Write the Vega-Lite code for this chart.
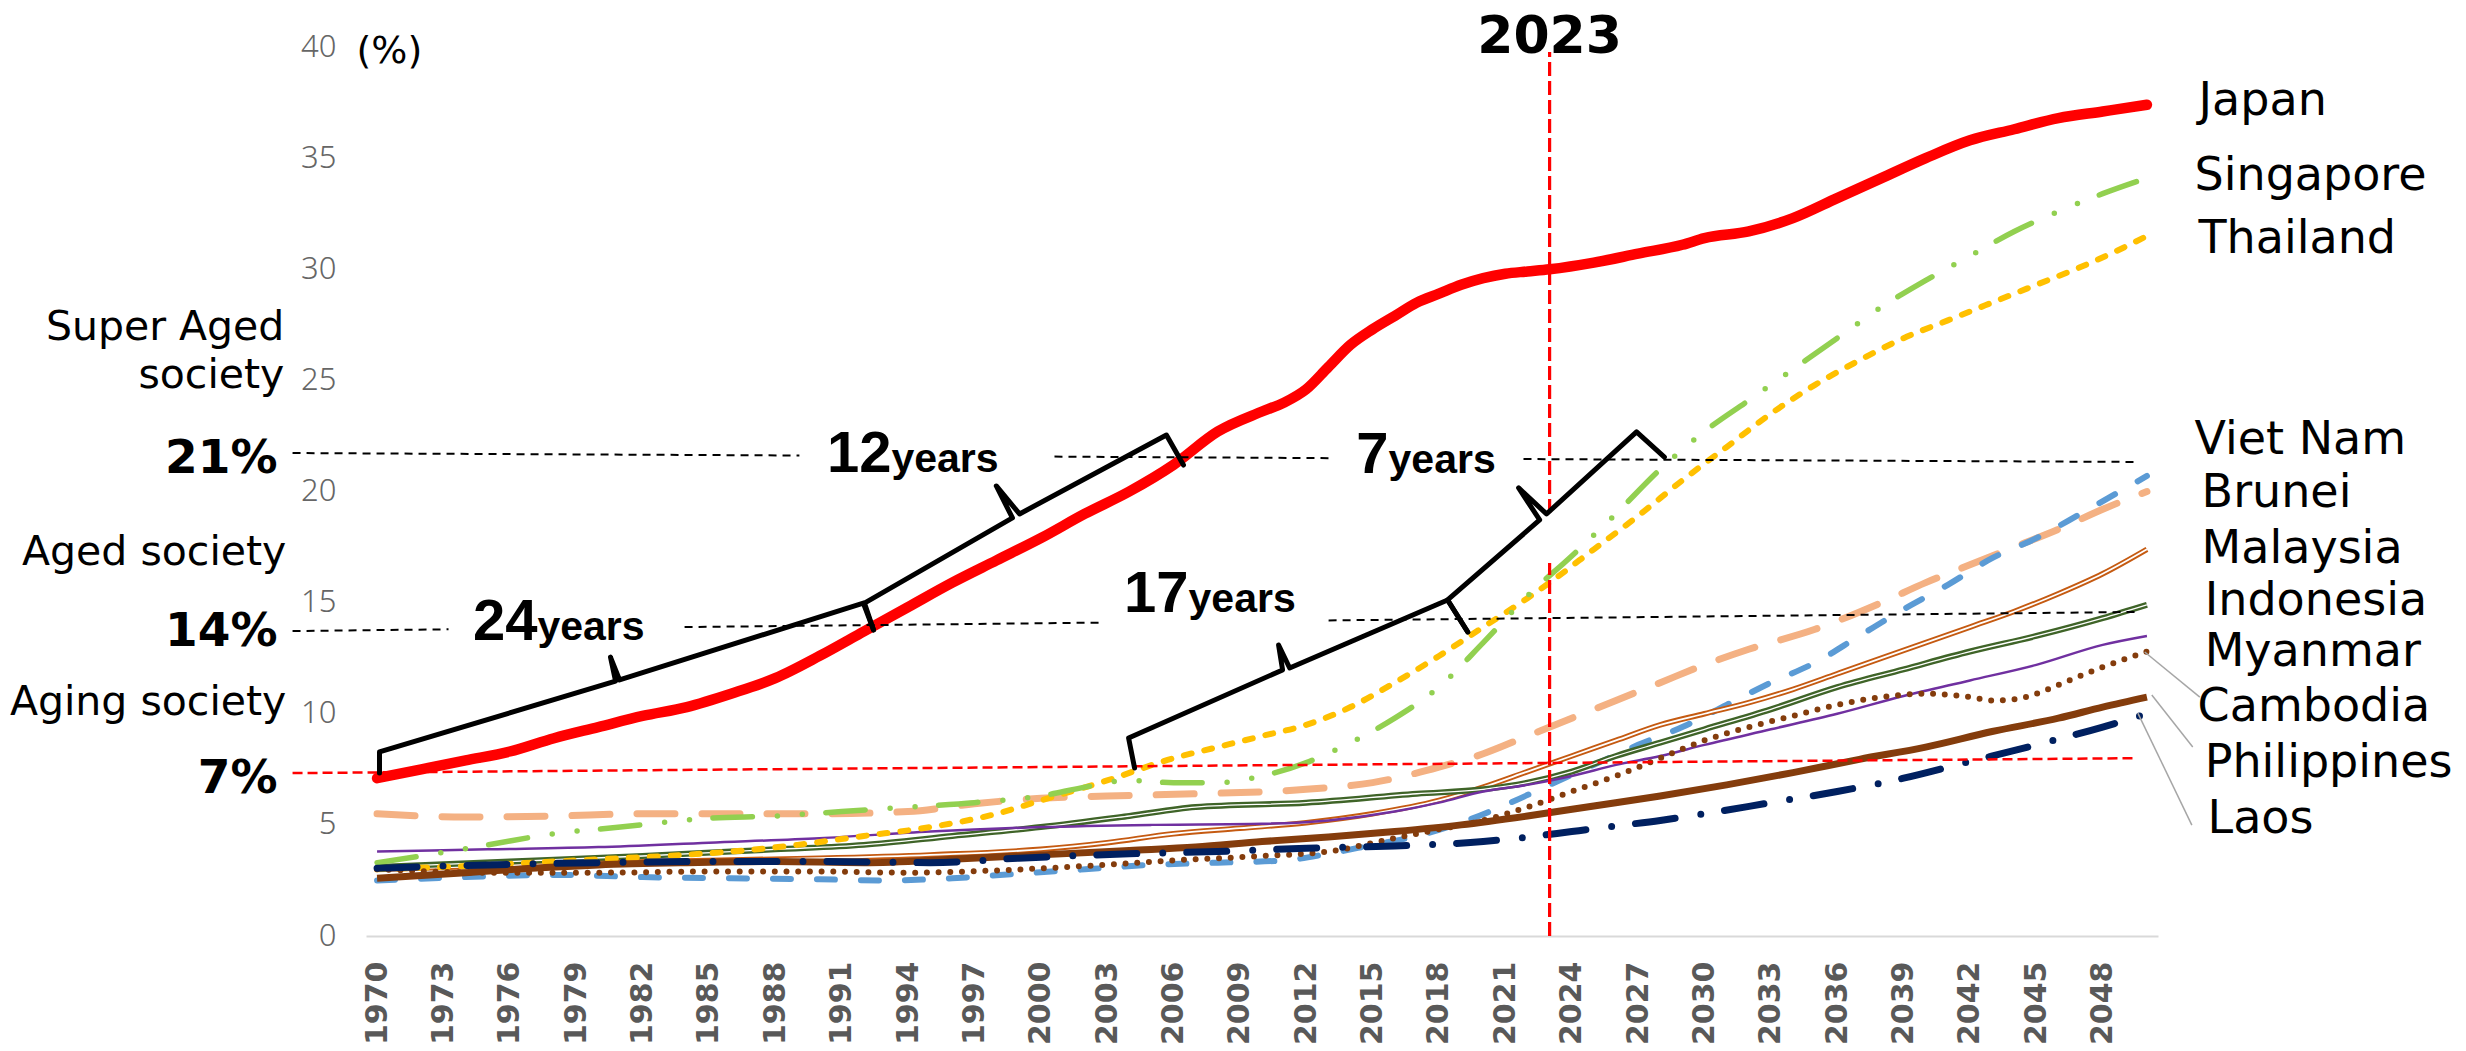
{
"$schema": "https://vega.github.io/schema/vega-lite/v6.json",
"width": 1792, "height": 889,
"autosize": {"type": "none"},
"padding": {"left": 366, "top": 47, "right": 308, "bottom": 115},
"background": "white",
"config": {"view": {"stroke": null}},
"datasets": {
"series": [
{"c":"Japan","year":1970,"pct":7.1},{"c":"Japan","year":1972,"pct":7.5},{"c":"Japan","year":1974,"pct":7.9},{"c":"Japan","year":1976,"pct":8.3},{"c":"Japan","year":1978,"pct":8.9},{"c":"Japan","year":1980,"pct":9.4},{"c":"Japan","year":1982,"pct":9.9},{"c":"Japan","year":1984,"pct":10.3},{"c":"Japan","year":1986,"pct":10.9},{"c":"Japan","year":1988,"pct":11.6},{"c":"Japan","year":1990,"pct":12.6},{"c":"Japan","year":1992,"pct":13.7},{"c":"Japan","year":1994,"pct":14.8},{"c":"Japan","year":1996,"pct":15.9},{"c":"Japan","year":1998,"pct":16.9},{"c":"Japan","year":2000,"pct":17.9},{"c":"Japan","year":2002,"pct":19.0},{"c":"Japan","year":2004,"pct":20.0},{"c":"Japan","year":2006,"pct":21.2},{"c":"Japan","year":2008,"pct":22.7},{"c":"Japan","year":2010,"pct":23.6},{"c":"Japan","year":2011,"pct":24.0},{"c":"Japan","year":2012,"pct":24.6},{"c":"Japan","year":2013,"pct":25.6},{"c":"Japan","year":2014,"pct":26.6},{"c":"Japan","year":2015,"pct":27.3},{"c":"Japan","year":2016,"pct":27.9},{"c":"Japan","year":2017,"pct":28.5},{"c":"Japan","year":2018,"pct":28.9},{"c":"Japan","year":2019,"pct":29.3},{"c":"Japan","year":2020,"pct":29.6},{"c":"Japan","year":2021,"pct":29.8},{"c":"Japan","year":2022,"pct":29.9},{"c":"Japan","year":2023,"pct":30.0},{"c":"Japan","year":2025,"pct":30.3},{"c":"Japan","year":2027,"pct":30.7},{"c":"Japan","year":2029,"pct":31.1},{"c":"Japan","year":2030,"pct":31.4},{"c":"Japan","year":2032,"pct":31.7},{"c":"Japan","year":2034,"pct":32.3},{"c":"Japan","year":2036,"pct":33.2},{"c":"Japan","year":2038,"pct":34.1},{"c":"Japan","year":2040,"pct":35.0},{"c":"Japan","year":2042,"pct":35.8},{"c":"Japan","year":2044,"pct":36.3},{"c":"Japan","year":2046,"pct":36.8},{"c":"Japan","year":2048,"pct":37.1},{"c":"Japan","year":2050,"pct":37.4},
{"c":"Singapore","year":1970,"pct":3.3},{"c":"Singapore","year":1972,"pct":3.6},{"c":"Singapore","year":1975,"pct":4.1},{"c":"Singapore","year":1978,"pct":4.6},{"c":"Singapore","year":1981,"pct":4.9},{"c":"Singapore","year":1985,"pct":5.3},{"c":"Singapore","year":1988,"pct":5.4},{"c":"Singapore","year":1991,"pct":5.6},{"c":"Singapore","year":1994,"pct":5.8},{"c":"Singapore","year":1997,"pct":6.0},{"c":"Singapore","year":2000,"pct":6.3},{"c":"Singapore","year":2002,"pct":6.7},{"c":"Singapore","year":2004,"pct":7.0},{"c":"Singapore","year":2006,"pct":6.9},{"c":"Singapore","year":2008,"pct":6.9},{"c":"Singapore","year":2010,"pct":7.2},{"c":"Singapore","year":2012,"pct":7.8},{"c":"Singapore","year":2014,"pct":8.7},{"c":"Singapore","year":2016,"pct":9.8},{"c":"Singapore","year":2018,"pct":11.2},{"c":"Singapore","year":2020,"pct":13.2},{"c":"Singapore","year":2022,"pct":15.3},{"c":"Singapore","year":2024,"pct":17.1},{"c":"Singapore","year":2026,"pct":19.0},{"c":"Singapore","year":2028,"pct":21.0},{"c":"Singapore","year":2030,"pct":22.7},{"c":"Singapore","year":2032,"pct":24.1},{"c":"Singapore","year":2034,"pct":25.5},{"c":"Singapore","year":2036,"pct":26.9},{"c":"Singapore","year":2038,"pct":28.3},{"c":"Singapore","year":2040,"pct":29.5},{"c":"Singapore","year":2042,"pct":30.6},{"c":"Singapore","year":2044,"pct":31.7},{"c":"Singapore","year":2046,"pct":32.6},{"c":"Singapore","year":2048,"pct":33.4},{"c":"Singapore","year":2050,"pct":34.1},
{"c":"Thailand","year":1970,"pct":3.0},{"c":"Thailand","year":1974,"pct":3.15},{"c":"Thailand","year":1977,"pct":3.3},{"c":"Thailand","year":1980,"pct":3.45},{"c":"Thailand","year":1983,"pct":3.6},{"c":"Thailand","year":1986,"pct":3.8},{"c":"Thailand","year":1989,"pct":4.1},{"c":"Thailand","year":1992,"pct":4.5},{"c":"Thailand","year":1995,"pct":4.9},{"c":"Thailand","year":1998,"pct":5.5},{"c":"Thailand","year":2000,"pct":6.1},{"c":"Thailand","year":2003,"pct":7.0},{"c":"Thailand","year":2006,"pct":8.0},{"c":"Thailand","year":2008,"pct":8.5},{"c":"Thailand","year":2010,"pct":9.0},{"c":"Thailand","year":2012,"pct":9.5},{"c":"Thailand","year":2014,"pct":10.3},{"c":"Thailand","year":2016,"pct":11.4},{"c":"Thailand","year":2018,"pct":12.6},{"c":"Thailand","year":2020,"pct":13.9},{"c":"Thailand","year":2022,"pct":15.2},{"c":"Thailand","year":2023,"pct":15.9},{"c":"Thailand","year":2025,"pct":17.4},{"c":"Thailand","year":2027,"pct":18.9},{"c":"Thailand","year":2029,"pct":20.5},{"c":"Thailand","year":2031,"pct":22.0},{"c":"Thailand","year":2033,"pct":23.5},{"c":"Thailand","year":2035,"pct":24.8},{"c":"Thailand","year":2037,"pct":25.9},{"c":"Thailand","year":2039,"pct":26.9},{"c":"Thailand","year":2041,"pct":27.7},{"c":"Thailand","year":2043,"pct":28.5},{"c":"Thailand","year":2045,"pct":29.3},{"c":"Thailand","year":2047,"pct":30.1},{"c":"Thailand","year":2049,"pct":31.0},{"c":"Thailand","year":2050,"pct":31.5},
{"c":"Viet Nam","year":1970,"pct":2.5},{"c":"Viet Nam","year":1974,"pct":2.65},{"c":"Viet Nam","year":1978,"pct":2.75},{"c":"Viet Nam","year":1982,"pct":2.65},{"c":"Viet Nam","year":1986,"pct":2.6},{"c":"Viet Nam","year":1990,"pct":2.55},{"c":"Viet Nam","year":1993,"pct":2.5},{"c":"Viet Nam","year":1996,"pct":2.6},{"c":"Viet Nam","year":1999,"pct":2.8},{"c":"Viet Nam","year":2002,"pct":3.0},{"c":"Viet Nam","year":2005,"pct":3.2},{"c":"Viet Nam","year":2008,"pct":3.3},{"c":"Viet Nam","year":2011,"pct":3.4},{"c":"Viet Nam","year":2013,"pct":3.7},{"c":"Viet Nam","year":2015,"pct":4.1},{"c":"Viet Nam","year":2017,"pct":4.5},{"c":"Viet Nam","year":2019,"pct":5.1},{"c":"Viet Nam","year":2021,"pct":5.9},{"c":"Viet Nam","year":2023,"pct":6.8},{"c":"Viet Nam","year":2025,"pct":7.7},{"c":"Viet Nam","year":2027,"pct":8.6},{"c":"Viet Nam","year":2029,"pct":9.4},{"c":"Viet Nam","year":2031,"pct":10.4},{"c":"Viet Nam","year":2033,"pct":11.4},{"c":"Viet Nam","year":2035,"pct":12.3},{"c":"Viet Nam","year":2037,"pct":13.5},{"c":"Viet Nam","year":2039,"pct":14.7},{"c":"Viet Nam","year":2041,"pct":15.8},{"c":"Viet Nam","year":2043,"pct":17.0},{"c":"Viet Nam","year":2045,"pct":17.9},{"c":"Viet Nam","year":2047,"pct":19.0},{"c":"Viet Nam","year":2050,"pct":20.7},
{"c":"Brunei","year":1970,"pct":5.5},{"c":"Brunei","year":1974,"pct":5.35},{"c":"Brunei","year":1978,"pct":5.4},{"c":"Brunei","year":1982,"pct":5.5},{"c":"Brunei","year":1986,"pct":5.5},{"c":"Brunei","year":1990,"pct":5.5},{"c":"Brunei","year":1994,"pct":5.6},{"c":"Brunei","year":1997,"pct":5.95},{"c":"Brunei","year":2000,"pct":6.2},{"c":"Brunei","year":2003,"pct":6.3},{"c":"Brunei","year":2007,"pct":6.4},{"c":"Brunei","year":2012,"pct":6.6},{"c":"Brunei","year":2015,"pct":6.9},{"c":"Brunei","year":2018,"pct":7.6},{"c":"Brunei","year":2020,"pct":8.2},{"c":"Brunei","year":2022,"pct":9.0},{"c":"Brunei","year":2024,"pct":9.8},{"c":"Brunei","year":2026,"pct":10.6},{"c":"Brunei","year":2028,"pct":11.4},{"c":"Brunei","year":2030,"pct":12.2},{"c":"Brunei","year":2032,"pct":12.9},{"c":"Brunei","year":2035,"pct":13.8},{"c":"Brunei","year":2038,"pct":15.0},{"c":"Brunei","year":2040,"pct":15.9},{"c":"Brunei","year":2042,"pct":16.7},{"c":"Brunei","year":2044,"pct":17.5},{"c":"Brunei","year":2046,"pct":18.3},{"c":"Brunei","year":2048,"pct":19.2},{"c":"Brunei","year":2050,"pct":20.0},
{"c":"Malaysia","year":1970,"pct":3.0},{"c":"Malaysia","year":1975,"pct":3.15},{"c":"Malaysia","year":1980,"pct":3.3},{"c":"Malaysia","year":1985,"pct":3.4},{"c":"Malaysia","year":1990,"pct":3.5},{"c":"Malaysia","year":1995,"pct":3.65},{"c":"Malaysia","year":2000,"pct":3.9},{"c":"Malaysia","year":2003,"pct":4.2},{"c":"Malaysia","year":2006,"pct":4.6},{"c":"Malaysia","year":2009,"pct":4.85},{"c":"Malaysia","year":2012,"pct":5.1},{"c":"Malaysia","year":2015,"pct":5.5},{"c":"Malaysia","year":2018,"pct":6.1},{"c":"Malaysia","year":2020,"pct":6.7},{"c":"Malaysia","year":2022,"pct":7.4},{"c":"Malaysia","year":2024,"pct":8.1},{"c":"Malaysia","year":2026,"pct":8.8},{"c":"Malaysia","year":2028,"pct":9.5},{"c":"Malaysia","year":2030,"pct":10.0},{"c":"Malaysia","year":2032,"pct":10.5},{"c":"Malaysia","year":2034,"pct":11.1},{"c":"Malaysia","year":2036,"pct":11.8},{"c":"Malaysia","year":2038,"pct":12.5},{"c":"Malaysia","year":2040,"pct":13.2},{"c":"Malaysia","year":2042,"pct":13.9},{"c":"Malaysia","year":2044,"pct":14.6},{"c":"Malaysia","year":2046,"pct":15.4},{"c":"Malaysia","year":2048,"pct":16.3},{"c":"Malaysia","year":2050,"pct":17.4},
{"c":"Indonesia","year":1970,"pct":3.1},{"c":"Indonesia","year":1976,"pct":3.35},{"c":"Indonesia","year":1982,"pct":3.6},{"c":"Indonesia","year":1988,"pct":3.9},{"c":"Indonesia","year":1992,"pct":4.1},{"c":"Indonesia","year":1996,"pct":4.5},{"c":"Indonesia","year":2000,"pct":4.9},{"c":"Indonesia","year":2004,"pct":5.4},{"c":"Indonesia","year":2007,"pct":5.8},{"c":"Indonesia","year":2012,"pct":6.0},{"c":"Indonesia","year":2017,"pct":6.4},{"c":"Indonesia","year":2020,"pct":6.6},{"c":"Indonesia","year":2022,"pct":6.9},{"c":"Indonesia","year":2024,"pct":7.4},{"c":"Indonesia","year":2026,"pct":8.1},{"c":"Indonesia","year":2028,"pct":8.7},{"c":"Indonesia","year":2030,"pct":9.3},{"c":"Indonesia","year":2033,"pct":10.2},{"c":"Indonesia","year":2036,"pct":11.2},{"c":"Indonesia","year":2039,"pct":12.0},{"c":"Indonesia","year":2042,"pct":12.8},{"c":"Indonesia","year":2045,"pct":13.5},{"c":"Indonesia","year":2048,"pct":14.3},{"c":"Indonesia","year":2050,"pct":14.9},
{"c":"Myanmar","year":1970,"pct":3.8},{"c":"Myanmar","year":1975,"pct":3.9},{"c":"Myanmar","year":1980,"pct":4.0},{"c":"Myanmar","year":1985,"pct":4.2},{"c":"Myanmar","year":1990,"pct":4.4},{"c":"Myanmar","year":1995,"pct":4.7},{"c":"Myanmar","year":2000,"pct":4.9},{"c":"Myanmar","year":2005,"pct":5.0},{"c":"Myanmar","year":2010,"pct":5.05},{"c":"Myanmar","year":2013,"pct":5.2},{"c":"Myanmar","year":2016,"pct":5.6},{"c":"Myanmar","year":2018,"pct":6.0},{"c":"Myanmar","year":2020,"pct":6.5},{"c":"Myanmar","year":2022,"pct":6.8},{"c":"Myanmar","year":2024,"pct":7.2},{"c":"Myanmar","year":2026,"pct":7.7},{"c":"Myanmar","year":2028,"pct":8.1},{"c":"Myanmar","year":2030,"pct":8.6},{"c":"Myanmar","year":2033,"pct":9.3},{"c":"Myanmar","year":2036,"pct":10.0},{"c":"Myanmar","year":2039,"pct":10.8},{"c":"Myanmar","year":2042,"pct":11.5},{"c":"Myanmar","year":2045,"pct":12.2},{"c":"Myanmar","year":2048,"pct":13.1},{"c":"Myanmar","year":2050,"pct":13.5},
{"c":"Cambodia","year":1970,"pct":3.0},{"c":"Cambodia","year":1975,"pct":2.85},{"c":"Cambodia","year":1980,"pct":2.85},{"c":"Cambodia","year":1985,"pct":2.9},{"c":"Cambodia","year":1990,"pct":2.9},{"c":"Cambodia","year":1994,"pct":2.85},{"c":"Cambodia","year":1998,"pct":2.95},{"c":"Cambodia","year":2002,"pct":3.15},{"c":"Cambodia","year":2006,"pct":3.4},{"c":"Cambodia","year":2010,"pct":3.6},{"c":"Cambodia","year":2013,"pct":3.8},{"c":"Cambodia","year":2016,"pct":4.4},{"c":"Cambodia","year":2018,"pct":4.8},{"c":"Cambodia","year":2020,"pct":5.2},{"c":"Cambodia","year":2022,"pct":5.8},{"c":"Cambodia","year":2024,"pct":6.5},{"c":"Cambodia","year":2026,"pct":7.2},{"c":"Cambodia","year":2028,"pct":8.0},{"c":"Cambodia","year":2030,"pct":8.8},{"c":"Cambodia","year":2032,"pct":9.4},{"c":"Cambodia","year":2034,"pct":9.9},{"c":"Cambodia","year":2036,"pct":10.4},{"c":"Cambodia","year":2038,"pct":10.75},{"c":"Cambodia","year":2040,"pct":10.9},{"c":"Cambodia","year":2042,"pct":10.75},{"c":"Cambodia","year":2043,"pct":10.6},{"c":"Cambodia","year":2044,"pct":10.65},{"c":"Cambodia","year":2045,"pct":10.9},{"c":"Cambodia","year":2046,"pct":11.3},{"c":"Cambodia","year":2048,"pct":12.1},{"c":"Cambodia","year":2050,"pct":12.8},
{"c":"Philippines","year":1970,"pct":2.6},{"c":"Philippines","year":1974,"pct":2.85},{"c":"Philippines","year":1977,"pct":3.05},{"c":"Philippines","year":1980,"pct":3.2},{"c":"Philippines","year":1984,"pct":3.3},{"c":"Philippines","year":1988,"pct":3.35},{"c":"Philippines","year":1992,"pct":3.3},{"c":"Philippines","year":1996,"pct":3.45},{"c":"Philippines","year":2000,"pct":3.65},{"c":"Philippines","year":2004,"pct":3.85},{"c":"Philippines","year":2007,"pct":4.0},{"c":"Philippines","year":2010,"pct":4.25},{"c":"Philippines","year":2013,"pct":4.45},{"c":"Philippines","year":2016,"pct":4.7},{"c":"Philippines","year":2019,"pct":5.0},{"c":"Philippines","year":2022,"pct":5.4},{"c":"Philippines","year":2025,"pct":5.85},{"c":"Philippines","year":2028,"pct":6.3},{"c":"Philippines","year":2031,"pct":6.8},{"c":"Philippines","year":2034,"pct":7.35},{"c":"Philippines","year":2037,"pct":7.95},{"c":"Philippines","year":2040,"pct":8.5},{"c":"Philippines","year":2043,"pct":9.2},{"c":"Philippines","year":2046,"pct":9.8},{"c":"Philippines","year":2048,"pct":10.3},{"c":"Philippines","year":2050,"pct":10.75},
{"c":"Laos","year":1970,"pct":3.05},{"c":"Laos","year":1975,"pct":3.2},{"c":"Laos","year":1980,"pct":3.3},{"c":"Laos","year":1985,"pct":3.35},{"c":"Laos","year":1990,"pct":3.35},{"c":"Laos","year":1995,"pct":3.3},{"c":"Laos","year":1999,"pct":3.5},{"c":"Laos","year":2004,"pct":3.7},{"c":"Laos","year":2008,"pct":3.8},{"c":"Laos","year":2012,"pct":3.95},{"c":"Laos","year":2016,"pct":4.05},{"c":"Laos","year":2020,"pct":4.25},{"c":"Laos","year":2022,"pct":4.45},{"c":"Laos","year":2024,"pct":4.7},{"c":"Laos","year":2026,"pct":4.95},{"c":"Laos","year":2028,"pct":5.2},{"c":"Laos","year":2030,"pct":5.5},{"c":"Laos","year":2033,"pct":6.0},{"c":"Laos","year":2036,"pct":6.5},{"c":"Laos","year":2039,"pct":7.1},{"c":"Laos","year":2042,"pct":7.85},{"c":"Laos","year":2045,"pct":8.6},{"c":"Laos","year":2048,"pct":9.4},{"c":"Laos","year":2050,"pct":10.0}
],
"guides": [
{"g":"r7","i":1,"year":1966.18,"pct":7.33},{"g":"r7","i":2,"year":2049.44,"pct":8.0},
{"g":"k21a","i":1,"year":1966.18,"pct":21.73},{"g":"k21a","i":2,"year":1989.09,"pct":21.62},
{"g":"k21b","i":1,"year":2000.62,"pct":21.57},{"g":"k21b","i":2,"year":2013.24,"pct":21.5},
{"g":"k21c","i":1,"year":2021.82,"pct":21.46},{"g":"k21c","i":2,"year":2049.44,"pct":21.33},
{"g":"k14a","i":1,"year":1966.18,"pct":13.72},{"g":"k14a","i":2,"year":1973.23,"pct":13.8},
{"g":"k14b","i":1,"year":1983.9,"pct":13.9},{"g":"k14b","i":2,"year":2002.66,"pct":14.1},
{"g":"k14c","i":1,"year":2013.01,"pct":14.2},{"g":"k14c","i":2,"year":2049.44,"pct":14.58},
{"g":"v23a","i":1,"year":2023,"pct":0},{"g":"v23a","i":2,"year":2023,"pct":16.78},
{"g":"v23b","i":1,"year":2023,"pct":19.03},{"g":"v23b","i":2,"year":2023,"pct":39.77},
{"g":"lc","i":1,"year":2049.9,"pct":12.78},{"g":"lc","i":2,"year":2052.39,"pct":10.75},
{"g":"lp","i":1,"year":2050.22,"pct":10.84},{"g":"lp","i":2,"year":2052.07,"pct":8.5},
{"g":"ll","i":1,"year":2049.59,"pct":10.03},{"g":"ll","i":2,"year":2052.03,"pct":4.99}
],
"brackets": [
{"g":"b1","i":1,"year":1970.11,"pct":7.33},{"g":"b1","i":2,"year":1970.11,"pct":8.28},{"g":"b1","i":3,"year":1980.78,"pct":11.47},{"g":"b1","i":4,"year":1980.55,"pct":12.55},{"g":"b1","i":5,"year":1980.96,"pct":11.52},{"g":"b1","i":6,"year":1991.98,"pct":14.98},{"g":"b1","i":7,"year":1992.44,"pct":13.77},
{"g":"b2","i":1,"year":1992.44,"pct":13.77},{"g":"b2","i":2,"year":1992.03,"pct":14.98},{"g":"b2","i":3,"year":1998.72,"pct":18.81},{"g":"b2","i":4,"year":1997.99,"pct":20.25},{"g":"b2","i":5,"year":1999.04,"pct":18.99},{"g":"b2","i":6,"year":2005.68,"pct":22.54},{"g":"b2","i":7,"year":2006.45,"pct":21.19},
{"g":"b3","i":1,"year":2004.24,"pct":7.56},{"g":"b3","i":2,"year":2003.97,"pct":8.91},{"g":"b3","i":3,"year":2010.93,"pct":11.97},{"g":"b3","i":4,"year":2010.75,"pct":13.09},{"g":"b3","i":5,"year":2011.25,"pct":12.06},{"g":"b3","i":6,"year":2018.39,"pct":15.12},{"g":"b3","i":7,"year":2019.3,"pct":13.68},
{"g":"b4","i":1,"year":2019.3,"pct":13.68},{"g":"b4","i":2,"year":2018.39,"pct":15.12},{"g":"b4","i":3,"year":2022.55,"pct":18.72},{"g":"b4","i":4,"year":2021.6,"pct":20.16},{"g":"b4","i":5,"year":2022.86,"pct":18.99},{"g":"b4","i":6,"year":2026.93,"pct":22.68},{"g":"b4","i":7,"year":2028.19,"pct":21.55}
],
"texts": [
{"k":"cty","t":"Japan","year":2052.33,"pct":36.94},
{"k":"cty","t":"Singapore","year":2052.15,"pct":33.57},
{"k":"cty","t":"Thailand","year":2052.33,"pct":30.73},
{"k":"cty","t":"Viet Nam","year":2052.15,"pct":21.69},
{"k":"cty","t":"Brunei","year":2052.47,"pct":19.3},
{"k":"cty","t":"Malaysia","year":2052.47,"pct":16.78},
{"k":"cty","t":"Indonesia","year":2052.61,"pct":14.44},
{"k":"cty","t":"Myanmar","year":2052.61,"pct":12.15},
{"k":"cty","t":"Cambodia","year":2052.29,"pct":9.67},
{"k":"cty","t":"Philippines","year":2052.61,"pct":7.15},
{"k":"cty","t":"Laos","year":2052.74,"pct":4.63},
{"k":"soc","t":"Super Aged","year":1965.81,"pct":26.82},
{"k":"soc","t":"society","year":1965.81,"pct":24.66},
{"k":"soc","t":"Aged society","year":1965.9,"pct":16.69},
{"k":"soc","t":"Aging society","year":1965.9,"pct":9.94},
{"k":"pl","t":"21%","year":1965.5,"pct":20.83},
{"k":"pl","t":"14%","year":1965.5,"pct":13.05},
{"k":"pl","t":"7%","year":1965.5,"pct":6.45},
{"k":"num","t":"24","year":1977.25,"pct":13.32},
{"k":"num","t":"12","year":1993.25,"pct":20.88},
{"k":"num","t":"7","year":2015.72,"pct":20.83},
{"k":"num","t":"17","year":2006.68,"pct":14.58},
{"k":"yrs","t":"years","year":1977.25,"pct":13.32},
{"k":"yrs","t":"years","year":1993.25,"pct":20.88},
{"k":"yrs","t":"years","year":2015.72,"pct":20.83},
{"k":"yrs","t":"years","year":2006.68,"pct":14.58},
{"k":"top","t":"2023","year":2023,"pct":39.73},
{"k":"unit","t":"(%)","year":1969.07,"pct":39.3}
]
},
"encoding": {
"x": {"field": "year", "type": "quantitative",
 "scale": {"domain": [1969.5, 2050.5], "nice": false, "zero": false},
 "axis": {"title": null, "values": [1970,1973,1976,1979,1982,1985,1988,1991,1994,1997,2000,2003,2006,2009,2012,2015,2018,2021,2024,2027,2030,2033,2036,2039,2042,2045,2048],
  "format": "d", "labelAngle": -90, "labelFont": "DejaVu Sans", "labelFontWeight": "bold", "labelFontSize": 30, "labelColor": "#595959",
  "ticks": false, "grid": false, "domainColor": "#d9d9d9", "domainWidth": 2, "labelPadding": 25, "labelFlush": false, "labelOverlap": false, "labelBound": false}},
"y": {"field": "pct", "type": "quantitative",
 "scale": {"domain": [0, 40], "nice": false, "zero": false},
 "axis": {"title": null, "values": [0,5,10,15,20,25,30,35,40], "labelFont": "Noto Sans", "labelFontWeight": 300, "labelFontSize": 31, "labelColor": "#666666",
  "ticks": false, "grid": false, "domain": false, "labelPadding": 30}}
},
"layer": [
{"data": {"name": "series"}, "transform": [{"filter": "datum.c === 'Brunei'"}], "mark": {"type": "line", "color": "#F4B183", "strokeWidth": 7, "strokeDash": [38, 27], "strokeCap": "round", "interpolate": "monotone", "clip": false}, "encoding": {}},
{"data": {"name": "series"}, "transform": [{"filter": "datum.c === 'Viet Nam'"}], "mark": {"type": "line", "color": "#5B9BD5", "strokeWidth": 6, "strokeDash": [18, 26], "strokeCap": "round", "interpolate": "monotone", "clip": false}, "encoding": {}},
{"data": {"name": "series"}, "transform": [{"filter": "datum.c === 'Malaysia'"}], "mark": {"type": "line", "color": "#C55A11", "strokeWidth": 5.5, "interpolate": "monotone", "clip": false}, "encoding": {}},
{"data": {"name": "series"}, "transform": [{"filter": "datum.c === 'Malaysia'"}], "mark": {"type": "line", "color": "#ffffff", "strokeWidth": 1.8, "interpolate": "monotone", "clip": false}, "encoding": {}},
{"data": {"name": "series"}, "transform": [{"filter": "datum.c === 'Indonesia'"}], "mark": {"type": "line", "color": "#3F6428", "strokeWidth": 6, "interpolate": "monotone", "clip": false}, "encoding": {}},
{"data": {"name": "series"}, "transform": [{"filter": "datum.c === 'Indonesia'"}], "mark": {"type": "line", "color": "#ffffff", "strokeWidth": 1.3, "interpolate": "monotone", "clip": false}, "encoding": {}},
{"data": {"name": "series"}, "transform": [{"filter": "datum.c === 'Myanmar'"}], "mark": {"type": "line", "color": "#7030A0", "strokeWidth": 2.5, "interpolate": "monotone", "clip": false}, "encoding": {}},
{"data": {"name": "series"}, "transform": [{"filter": "datum.c === 'Thailand'"}], "mark": {"type": "line", "color": "#FFC000", "strokeWidth": 6, "strokeDash": [8, 13], "strokeCap": "round", "interpolate": "monotone", "clip": false}, "encoding": {}},
{"data": {"name": "series"}, "transform": [{"filter": "datum.c === 'Singapore'"}], "mark": {"type": "line", "color": "#92D050", "strokeWidth": 5.5, "strokeDash": [39.5, 25, 0, 25, 0, 23.5], "strokeCap": "round", "interpolate": "monotone", "clip": false}, "encoding": {}},
{"data": {"name": "series"}, "transform": [{"filter": "datum.c === 'Cambodia'"}], "mark": {"type": "line", "color": "#843C0C", "strokeWidth": 6, "strokeDash": [0, 11.7], "strokeCap": "round", "interpolate": "monotone", "clip": false}, "encoding": {}},
{"data": {"name": "series"}, "transform": [{"filter": "datum.c === 'Philippines'"}], "mark": {"type": "line", "color": "#843C0C", "strokeWidth": 7, "interpolate": "monotone", "clip": false}, "encoding": {}},
{"data": {"name": "series"}, "transform": [{"filter": "datum.c === 'Laos'"}], "mark": {"type": "line", "color": "#002060", "strokeWidth": 7, "strokeDash": [40, 26, 0, 24], "strokeCap": "round", "interpolate": "monotone", "clip": false}, "encoding": {}},
{"data": {"name": "series"}, "transform": [{"filter": "datum.c === 'Japan'"}], "mark": {"type": "line", "color": "#FF0000", "strokeWidth": 10.5, "strokeCap": "round", "interpolate": "monotone", "clip": false}, "encoding": {}},
{"data": {"name": "guides"}, "transform": [{"filter": "datum.g === 'r7'"}], "mark": {"type": "line", "color": "#FF0000", "strokeWidth": 2.5, "strokeDash": [10, 5], "clip": false}, "encoding": {"detail": {"field": "g"}, "order": {"field": "i"}}},
{"data": {"name": "guides"}, "transform": [{"filter": "indexof(datum.g, 'k') === 0"}], "mark": {"type": "line", "color": "#000000", "strokeWidth": 2, "strokeDash": [8, 6], "clip": false}, "encoding": {"detail": {"field": "g"}, "order": {"field": "i"}}},
{"data": {"name": "guides"}, "transform": [{"filter": "indexof(datum.g, 'v') === 0"}], "mark": {"type": "line", "color": "#FF0000", "strokeWidth": 3.2, "strokeDash": [14, 5], "clip": false}, "encoding": {"detail": {"field": "g"}, "order": {"field": "i"}}},
{"data": {"name": "guides"}, "transform": [{"filter": "indexof(datum.g, 'l') === 0"}], "mark": {"type": "line", "color": "#A6A6A6", "strokeWidth": 1.5, "clip": false}, "encoding": {"detail": {"field": "g"}, "order": {"field": "i"}}},
{"data": {"name": "brackets"}, "mark": {"type": "line", "color": "#000000", "strokeWidth": 5, "strokeJoin": "round", "strokeCap": "round", "clip": false}, "encoding": {"detail": {"field": "g"}, "order": {"field": "i"}}},
{"data": {"name": "texts"}, "transform": [{"filter": "datum.k === 'cty'"}], "mark": {"type": "text", "font": "DejaVu Sans", "fontSize": 46, "align": "left", "baseline": "alphabetic", "color": "#000000", "clip": false}, "encoding": {"text": {"field": "t"}}},
{"data": {"name": "texts"}, "transform": [{"filter": "datum.k === 'soc'"}], "mark": {"type": "text", "font": "DejaVu Sans", "fontSize": 41, "align": "right", "baseline": "alphabetic", "color": "#000000", "clip": false}, "encoding": {"text": {"field": "t"}}},
{"data": {"name": "texts"}, "transform": [{"filter": "datum.k === 'pl'"}], "mark": {"type": "text", "font": "DejaVu Sans", "fontWeight": "bold", "fontSize": 47, "align": "right", "baseline": "alphabetic", "color": "#000000", "clip": false}, "encoding": {"text": {"field": "t"}}},
{"data": {"name": "texts"}, "transform": [{"filter": "datum.k === 'num'"}], "mark": {"type": "text", "font": "Liberation Sans", "fontWeight": "bold", "fontSize": 58, "align": "right", "baseline": "alphabetic", "color": "#000000", "clip": false}, "encoding": {"text": {"field": "t"}}},
{"data": {"name": "texts"}, "transform": [{"filter": "datum.k === 'yrs'"}], "mark": {"type": "text", "font": "Liberation Sans", "fontWeight": "bold", "fontSize": 41, "align": "left", "baseline": "alphabetic", "color": "#000000", "clip": false}, "encoding": {"text": {"field": "t"}}},
{"data": {"name": "texts"}, "transform": [{"filter": "datum.k === 'top'"}], "mark": {"type": "text", "font": "DejaVu Sans", "fontWeight": "bold", "fontSize": 52, "align": "center", "baseline": "alphabetic", "color": "#000000", "clip": false}, "encoding": {"text": {"field": "t"}}},
{"data": {"name": "texts"}, "transform": [{"filter": "datum.k === 'unit'"}], "mark": {"type": "text", "font": "DejaVu Sans", "fontSize": 38, "align": "left", "baseline": "alphabetic", "color": "#000000", "clip": false}, "encoding": {"text": {"field": "t"}}}
]
}
